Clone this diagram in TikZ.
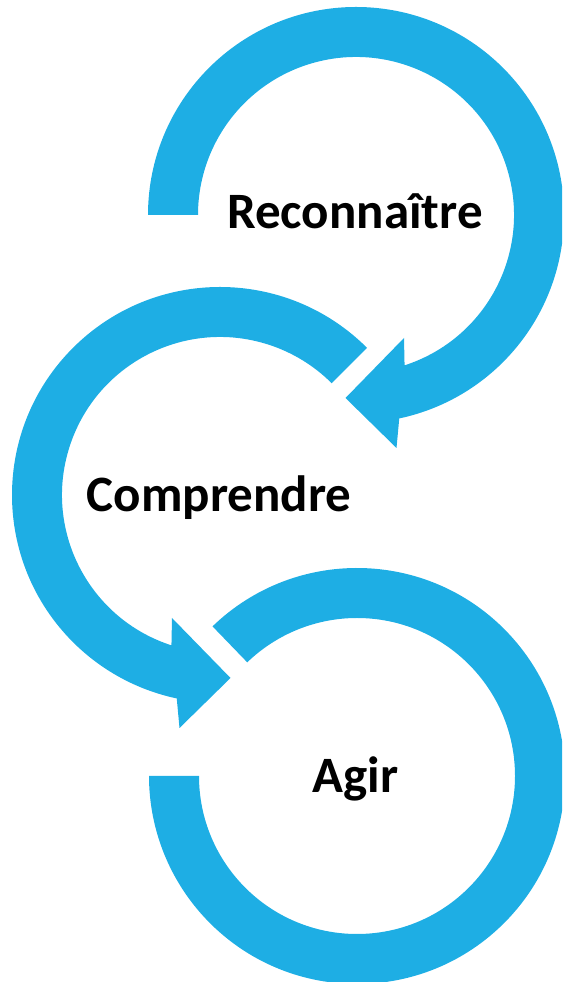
\documentclass[tikz,border=0pt]{standalone}
\usepackage{fontspec}
\setmainfont{Carlito}
\usetikzlibrary{calc}
\definecolor{ringblue}{RGB}{30,174,228}
\tikzset{
  ring/.style={fill=ringblue, draw=none},
  label/.style={font=\bfseries\fontsize{51}{61}\selectfont, text=black, inner sep=0pt, anchor=base}
}
\begin{document}
\begin{tikzpicture}[x=1pt,y=1pt]
\useasboundingbox (0,0) rectangle (562,982);
\clip (0,0) rectangle (562,982);
\coordinate (R) at (356,767);
\coordinate (C) at (220,487);
\coordinate (A) at (357,206);
% Reconnaitre ring
\fill[ring] ($(R)+(180:208)$) arc[start angle=180, end angle=-78, radius=208]
  -- ($(R)+(40.5,-233)$) -- ($(R)+(-10.5,-183)$) -- ($(R)+(48,-123)$)
  -- ($(R)+(-72.1:158)$) arc[start angle=-72.1, end angle=180, radius=158] -- cycle;
% Comprendre ring
\fill[ring] ($(C)+(45:208)$) arc[start angle=45, end angle=258, radius=208]
  -- ($(C)+(-40.5,-233)$) -- ($(C)+(10.5,-183)$) -- ($(C)+(-48,-123)$)
  -- ($(C)+(252.1:158)$) arc[start angle=252.1, end angle=45, radius=158] -- cycle;
% Agir ring
\fill[ring] ($(A)+(134:208)$) arc[start angle=134, end angle=-180, radius=208]
  -- ($(A)+(180:158)$) arc[start angle=-180, end angle=134, radius=158] -- cycle;
\node[label] (tR) at (355,753) {Reconnaître};
\node[label] (tC) at (219,470) {Comprendre};
\node[label] (tA) at (355.5,189) {Agir};
\end{tikzpicture}
\end{document}
